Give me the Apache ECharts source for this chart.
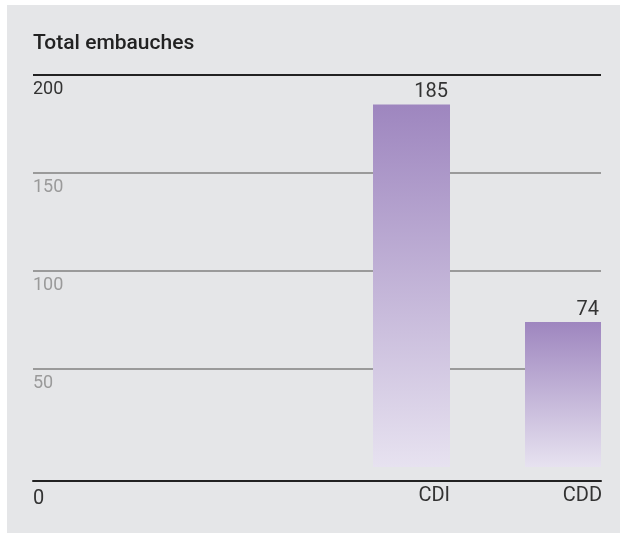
<!DOCTYPE html>
<html>
<head>
<meta charset="utf-8">
<script src="https://cdn.jsdelivr.net/npm/echarts@6/dist/echarts.min.js"></script>
<style>
  html, body { margin: 0; padding: 0; background: #ffffff; }
  #chart { width: 620px; height: 533px; }
</style>
</head>
<body>
<div id="chart"></div>
<script>
// Hiring totals by contract type
const titleText = 'Total embauches';
const categories = ['CDI', 'CDD'];
const hires = [185, 74];
const yTicks = [0, 50, 100, 150, 200];

const FONT = 'Roboto, "Noto Sans", sans-serif';
const DARK = '#222222';
const GREY = '#9a9a9a';
const BAR_W = 77;

const chart = echarts.init(document.getElementById('chart'), null, { renderer: 'canvas' });

const yMin = yTicks[0];
const yMax = yTicks[yTicks.length - 1];
const yStep = yTicks[1] - yTicks[0];

const barGradient = new echarts.graphic.LinearGradient(0, 0, 0, 1, [
  { offset: 0, color: '#9e86bf' },
  { offset: 1, color: '#e7e2f0' }
]);

chart.setOption({
  backgroundColor: 'transparent',
  animation: false,
  title: {
    text: titleText,
    left: 33,
    top: 33,
    padding: 0,
    textStyle: { fontFamily: FONT, fontSize: 21, fontWeight: 500, color: DARK }
  },
  graphic: [{
    type: 'rect',
    left: 7,
    top: 5,
    z: -10,
    silent: true,
    shape: { width: 613, height: 528 },
    style: { fill: '#e5e6e8' }
  }],
  grid: [
    // frame grid: horizontal rules and value labels
    { left: 33, right: 19, top: 75, bottom: 66 },
    // bar grid: one slot per contract type, bar sitting in the right half
    { left: 297, right: 19, top: 75, bottom: 66 }
  ],
  xAxis: [
    {
      gridIndex: 0,
      type: 'value',
      min: 0,
      max: 1,
      offset: 14,
      axisLine: { show: true, onZero: false, lineStyle: { color: DARK, width: 2 } },
      axisTick: { show: false },
      axisLabel: { show: false },
      splitLine: { show: false }
    },
    {
      gridIndex: 1,
      type: 'category',
      data: categories,
      offset: 14,
      axisLine: { show: false, onZero: false },
      axisTick: { show: false },
      splitLine: { show: false },
      axisLabel: {
        margin: 5,
        formatter: v => '{c|' + v + '}',
        rich: {
          c: { width: BAR_W * 2, align: 'right', fontFamily: FONT, fontSize: 20, color: '#333333' }
        }
      }
    }
  ],
  yAxis: [
    {
      gridIndex: 0,
      type: 'value',
      min: yMin,
      max: yMax,
      interval: yStep,
      axisLine: { show: false },
      axisTick: { show: false },
      splitLine: {
        show: true,
        lineStyle: {
          width: 2,
          color: yTicks.map(t => t === yMin ? 'rgba(0,0,0,0)' : (t === yMax ? DARK : GREY))
        }
      },
      axisLabel: {
        inside: true,
        margin: 0,
        align: 'left',
        verticalAlign: 'top',
        fontFamily: FONT,
        fontSize: 18,
        padding: [5, 0, 0, 0],
        color: (v) => (Number(v) === yMax ? '#333333' : GREY),
        formatter: v => (v === yMin ? '{z|' + v + '}' : String(v)),
        rich: {
          z: { fontFamily: FONT, fontSize: 20, color: '#333333', padding: [17, 0, 0, 0] }
        }
      }
    },
    {
      gridIndex: 1,
      type: 'value',
      min: yMin,
      max: yMax,
      interval: yStep,
      show: false,
      splitLine: { show: false }
    }
  ],
  series: [
    {
      // empty spacer occupying the left half of each slot
      type: 'bar',
      xAxisIndex: 1,
      yAxisIndex: 1,
      data: categories.map(() => '-'),
      barWidth: BAR_W,
      barGap: '0%',
      silent: true
    },
    {
      name: titleText,
      type: 'bar',
      xAxisIndex: 1,
      yAxisIndex: 1,
      data: hires,
      barWidth: BAR_W,
      barGap: '0%',
      itemStyle: { color: barGradient },
      label: {
        show: true,
        position: ['100%', 0],
        align: 'right',
        verticalAlign: 'bottom',
        offset: [-2, -2],
        fontFamily: FONT,
        fontSize: 20,
        color: '#333333'
      }
    }
  ]
});
</script>
</body>
</html>
